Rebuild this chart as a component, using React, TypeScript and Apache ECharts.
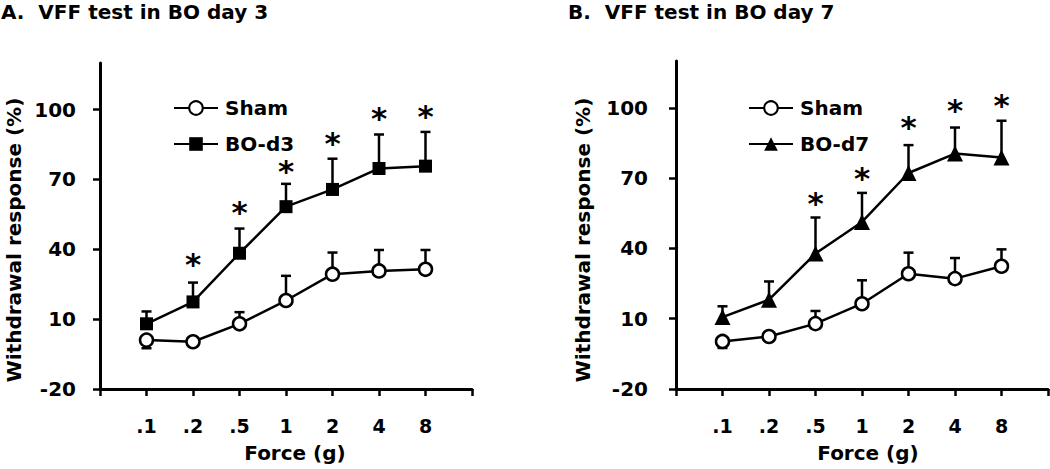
import React, { useEffect, useRef } from "react";
import * as echarts from "echarts";

const categories = [".1", ".2", ".5", "1", "2", "4", "8"];

// Panel A (day 3)
const shamA = [1, 0.3, 8, 18, 29.3, 30.7, 31.4];
const shamAErrEnd = [-2.5, 0.3, 13, 28.6, 38.6, 39.7, 39.7];
const boA = [8, 17.4, 38.3, 58.3, 65.7, 74.7, 75.7];
const boAErrEnd = [13.3, 25.7, 48.9, 68.1, 78.9, 89.3, 90.4];
const starsAIdx = [1, 2, 3, 4, 5, 6];
const starsAY = [36.6, 58.6, 76.4, 88.4, 99.3, 100];

// Panel B (day 7)
const shamB = [0.3, 2.4, 7.9, 16.4, 29.2, 27.1, 32.4];
const shamBErrEnd = [-2.5, 2.4, 13.3, 26.4, 38.2, 35.9, 39.6];
const boB = [10.7, 18.1, 37.8, 51.3, 72.2, 80.5, 78.8];
const boBErrEnd = [15.3, 25.9, 53.2, 63.7, 84.1, 91.6, 94.5];
const starsBIdx = [2, 3, 4, 5, 6];
const starsBY = [62, 72.7, 94.8, 101.9, 104];

const yTicks = [-20, 10, 40, 70, 100];
const xTicks = [0, 1, 2, 3, 4, 5, 6, 7, 8];

const FONT = "DejaVu Sans";

function xAxisCfg(gridIndex: number) {
  return {
    type: "value",
    gridIndex,
    min: 0,
    max: 8,
    interval: 1,
    axisLine: { show: true, onZero: false, lineStyle: { color: "#000", width: 3 } },
    axisTick: { show: true, length: 7, lineStyle: { color: "#000", width: 2.5 }, customValues: xTicks },
    axisLabel: {
      color: "#000",
      fontFamily: FONT,
      fontWeight: "bold",
      fontSize: 19,
      margin: 27,
      customValues: [1, 2, 3, 4, 5, 6, 7],
      formatter: (v: number) => categories[Math.round(v) - 1] ?? "",
    },
    splitLine: { show: false },
  };
}

function yAxisCfg(gridIndex: number, margin: number) {
  return {
    type: "value",
    gridIndex,
    min: -20,
    max: 120,
    axisLine: { show: true, onZero: false, lineStyle: { color: "#000", width: 3 } },
    axisTick: { show: true, length: 7, lineStyle: { color: "#000", width: 2.5 }, customValues: yTicks },
    axisLabel: {
      color: "#000",
      fontFamily: FONT,
      fontWeight: "bold",
      fontSize: 20,
      margin,
      customValues: yTicks,
    },
    splitLine: { show: false },
  };
}

function lineSeries(name: string, vals: number[], axis: number, symbol: string, size: number, open: boolean) {
  return {
    type: "line",
    name,
    xAxisIndex: axis,
    yAxisIndex: axis,
    data: vals.map((v, i) => [i + 1, v]),
    symbol,
    symbolSize: size,
    showAllSymbol: true,
    z: 5,
    itemStyle: open
      ? { color: "#fff", borderColor: "#000", borderWidth: 2.5 }
      : { color: "#000", borderColor: "#000", borderWidth: 0 },
    lineStyle: { color: "#000", width: 2.5 },
    emphasis: { disabled: true },
  };
}

function errSeries(vals: number[], ends: number[], axis: number) {
  return {
    type: "custom",
    xAxisIndex: axis,
    yAxisIndex: axis,
    z: 3,
    data: vals.map((v, i) => [i + 1, v, ends[i]]),
    renderItem: (_p: any, api: any) => {
      const x = api.value(0);
      const a = api.coord([x, api.value(1)]);
      const b = api.coord([x, api.value(2)]);
      if (Math.abs(a[1] - b[1]) < 1) return { type: "group", children: [] };
      return {
        type: "group",
        children: [
          { type: "line", shape: { x1: a[0], y1: a[1], x2: b[0], y2: b[1] }, style: { stroke: "#000", lineWidth: 2.5 } },
          { type: "line", shape: { x1: b[0] - 5, y1: b[1], x2: b[0] + 5, y2: b[1] }, style: { stroke: "#000", lineWidth: 2.5 } },
        ],
      };
    },
  };
}

function starSeries(idx: number[], ys: number[], axis: number) {
  return {
    type: "custom",
    xAxisIndex: axis,
    yAxisIndex: axis,
    z: 4,
    data: idx.map((k, i) => [k + 1, ys[i]]),
    renderItem: (_p: any, api: any) => {
      const c = api.coord([api.value(0), api.value(1)]);
      return {
        type: "text",
        x: c[0],
        y: c[1] + 6.5,
        style: {
          text: "*",
          fill: "#000",
          font: `bold 31px "${FONT}"`,
          lineHeight: 14,
          align: "center",
          verticalAlign: "middle",
        },
      };
    },
  };
}

function legendCfg(left: number, names: string[]) {
  return {
    left,
    top: 93,
    orient: "vertical",
    data: names,
    itemWidth: 44,
    itemHeight: 17,
    itemGap: 16,
    selectedMode: false,
    textStyle: {
      color: "#000",
      fontFamily: FONT,
      fontWeight: "bold",
      fontSize: 20,
      lineHeight: 20,
      padding: [0, 0, 0, 2],
    },
  };
}

export default function App() {
  const ref = useRef<HTMLDivElement>(null);
  useEffect(() => {
    document.body.style.margin = "0";
    const chart = echarts.init(ref.current!, null, { renderer: "svg" });
    chart.setOption({
      animation: false,
      backgroundColor: "#fff",
      grid: [
        { left: 100, top: 63, width: 372, height: 326 },
        { left: 676, top: 61, width: 372, height: 328 },
      ],
      xAxis: [xAxisCfg(0), xAxisCfg(1)],
      yAxis: [yAxisCfg(0, 24), yAxisCfg(1, 28)],
      legend: [legendCfg(168, ["Sham", "BO-d3"]), legendCfg(743, ["Sham", "BO-d7"])],
      series: [
        errSeries(shamA, shamAErrEnd, 0),
        errSeries(boA, boAErrEnd, 0),
        lineSeries("Sham", shamA, 0, "circle", 13, true),
        lineSeries("BO-d3", boA, 0, "rect", 13, false),
        starSeries(starsAIdx, starsAY, 0),
        errSeries(shamB, shamBErrEnd, 1),
        errSeries(boB, boBErrEnd, 1),
        lineSeries("Sham", shamB, 1, "circle", 13, true),
        lineSeries("BO-d7", boB, 1, "triangle", 16, false),
        starSeries(starsBIdx, starsBY, 1),
      ],
      graphic: [
        { type: "text", left: 1, top: 2, style: { text: "A.  VFF test in BO day 3", font: `bold 20px "${FONT}"`, fill: "#000" } },
        { type: "text", left: 568, top: 2, style: { text: "B.  VFF test in BO day 7", font: `bold 20px "${FONT}"`, fill: "#000" } },
        {
          type: "text", x: 14, y: 240, rotation: Math.PI / 2,
          style: { text: "Withdrawal response (%)", font: `bold 20px "${FONT}"`, fill: "#000", align: "center", verticalAlign: "middle" },
        },
        {
          type: "text", x: 583, y: 240, rotation: Math.PI / 2,
          style: { text: "Withdrawal response (%)", font: `bold 20px "${FONT}"`, fill: "#000", align: "center", verticalAlign: "middle" },
        },
        {
          type: "text", x: 295, y: 453,
          style: { text: "Force (g)", font: `bold 20px "${FONT}"`, fill: "#000", align: "center", verticalAlign: "middle" },
        },
        {
          type: "text", x: 868, y: 453,
          style: { text: "Force (g)", font: `bold 20px "${FONT}"`, fill: "#000", align: "center", verticalAlign: "middle" },
        },
      ],
    });
    return () => chart.dispose();
  }, []);
  return <div ref={ref} style={{ width: 1050, height: 469 }} />;
}
